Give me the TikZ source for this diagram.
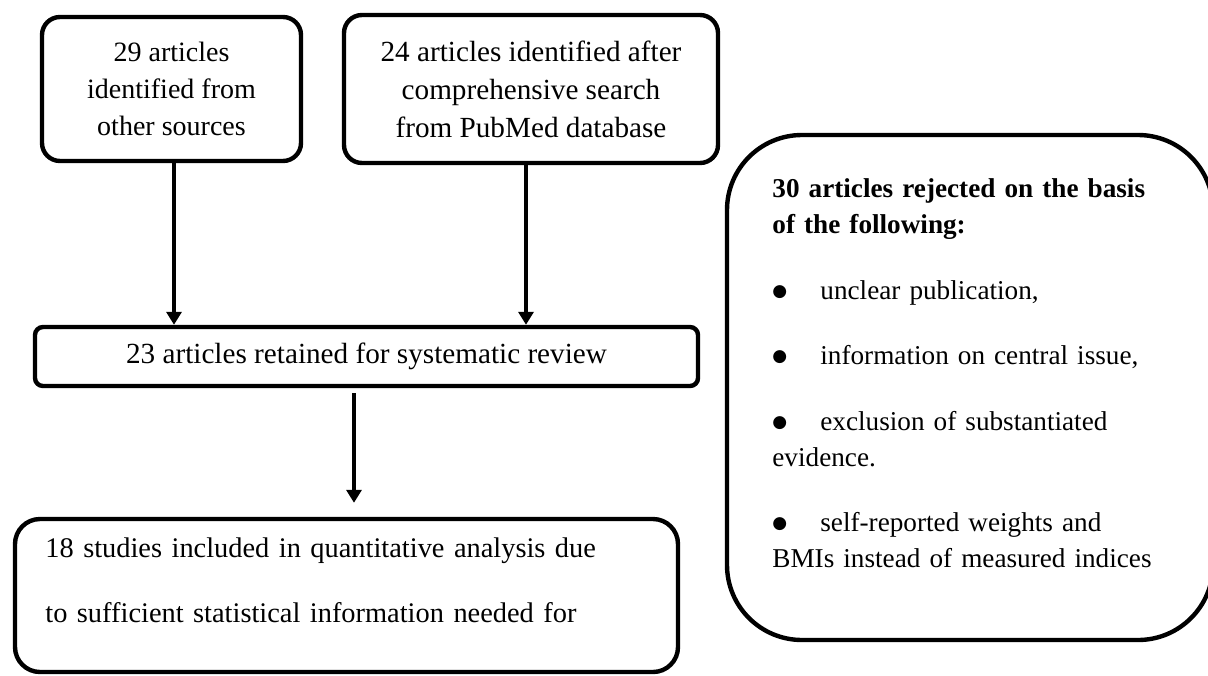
\documentclass[tikz,border=0pt]{standalone}
\usepackage{fontspec}
\setmainfont{Liberation Serif}
\newfontfamily\symfont{DejaVu Sans}
\usetikzlibrary{arrows.meta,calc}
\newcommand{\bigbul}{\makebox[24pt][l]{\raisebox{1.2pt}{\symfont\fontsize{8.5}{8.5}\selectfont ●}}}
\begin{document}
\begin{tikzpicture}[x=0.5pt,y=-0.5pt,
  txt/.style={font=\fontsize{14}{18.5}\selectfont},
  box/.style={draw=black, line width=2.2pt, txt, align=center, inner sep=0pt},
  arr/.style={line width=2.2pt, -{Triangle[width=7.5pt,length=6.5pt]}}]
\useasboundingbox (0,0) rectangle (1208,675);

% boxes
\node[box, rounded corners=9pt, minimum width=129.5pt, minimum height=72pt] (b1) at (171.5,89)
  {29 articles\\identified from\\other sources};
\node[box, rounded corners=9pt, minimum width=187pt, minimum height=74pt,
      font=\fontsize{14.6}{19}\selectfont] (b2) at (531,89)
  {24 articles identified after\\comprehensive search\\from PubMed database};
\node[box, rounded corners=4pt, minimum width=331.5pt, minimum height=29.5pt,
      font=\fontsize{14.6}{18.5}\selectfont] (b3) at (366.5,356.5)
  {23 articles retained for systematic review};
\node[box, rounded corners=12.5pt, minimum width=331.5pt, minimum height=76.5pt] (b4) at (346.5,595.5) {};
\node[txt, font=\fontsize{14.2}{18.5}\selectfont, anchor=base west, text width=320pt, align=left, inner sep=0pt] (b4txt) at (45,557)
  {18 studies included in quantitative analysis due\\[14pt]to sufficient statistical information needed for};
\node[box, rounded corners=37.5pt, minimum width=243pt, minimum height=252.5pt] (rej) at (970,387.5) {};
\node[txt, font=\fontsize{13.6}{18}\selectfont, anchor=base west, text width=205pt, align=left, inner sep=0pt] (rejtxt) at (772,197)
  {\textbf{30 articles rejected on the basis}\\
   \textbf{of the following:}\\[15pt]
   \bigbul unclear publication,\\[14.5pt]
   \bigbul information on central issue,\\[15pt]
   \bigbul exclusion of substantiated\\
   evidence.\\[14.5pt]
   \bigbul self-reported weights and\\
   BMIs instead of measured indices};

% connectors
\coordinate (a1) at ($(b1.south)+(2.5,0)$);
\coordinate (a2) at ($(b2.south)+(-5,0)$);
\coordinate (a3) at ($(b3.south)+(-12.5,0)$);
\draw[arr] (a1) -- (a1 |- b3.north);
\draw[arr] (a2) -- (a2 |- b3.north);
\draw[arr, shorten <=2.5pt, shorten >=7pt] (a3) -- (a3 |- b4.north);
\end{tikzpicture}
\end{document}
